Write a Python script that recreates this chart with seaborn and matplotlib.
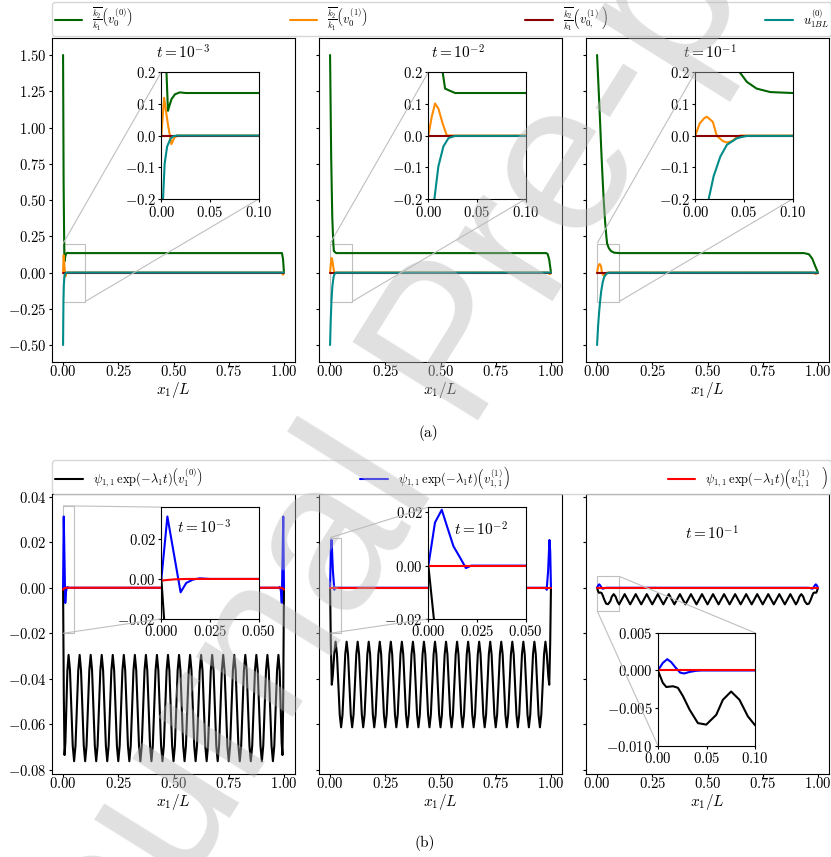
import numpy as np
import pandas as pd
import matplotlib
matplotlib.use("Agg")
import matplotlib.pyplot as plt
import seaborn as sns
from matplotlib.lines import Line2D
from mpl_toolkits.axes_grid1.inset_locator import mark_inset

# ---------------- values ----------------
# (a) t = 1e-3
a1_green_x = [0.0, 0.0025, 0.005, 0.0068, 0.0085, 0.0105, 0.014, 0.019, 0.025, 0.991, 0.996, 1.0]
a1_green_y = [1.5, 0.62, 0.22, 0.078, 0.096, 0.115, 0.13, 0.136, 0.134, 0.134, 0.09, 0.0]
a1_orange_x = [0.0, 0.0028, 0.0065, 0.0103, 0.0135, 0.017, 0.99, 0.996, 1.0]
a1_orange_y = [0.0, 0.119, 0.04, -0.027, -0.006, 0.0, 0.0, -0.015, 0.0]
a1_teal_x = [0.0, 0.0017, 0.0034, 0.0059, 0.0093, 0.012, 0.0155, 1.0]
a1_teal_y = [-0.5, -0.2, -0.088, -0.035, -0.01, -0.003, 0.0, 0.0]

# (a) t = 1e-2
a2_green_x = [0.0, 0.005, 0.01, 0.0147, 0.0172, 0.0207, 0.0276, 0.978, 0.985, 0.992, 1.0]
a2_green_y = [1.5, 0.8, 0.38, 0.2, 0.148, 0.143, 0.134, 0.134, 0.128, 0.09, 0.0]
a2_orange_x = [0.0, 0.0034, 0.0069, 0.0103, 0.0147, 0.019, 0.985, 0.995, 1.0]
a2_orange_y = [0.0, 0.058, 0.101, 0.085, 0.038, 0.0, 0.0, -0.012, 0.0]
a2_teal_x = [0.0, 0.003, 0.0062, 0.0103, 0.0155, 0.0207, 0.0276, 1.0]
a2_teal_y = [-0.5, -0.33, -0.2, -0.097, -0.034, -0.008, -0.001, 0.0]

# (a) t = 1e-1
a3_green_x = [0.0, 0.006, 0.012, 0.018, 0.024, 0.03, 0.036, 0.042, 0.0455, 0.053, 0.063,
              0.077, 0.1, 0.937, 0.959, 0.974, 0.989, 1.0]
a3_green_y = [1.5, 1.3, 1.1, 0.88, 0.68, 0.5, 0.36, 0.25, 0.2, 0.169, 0.148,
              0.137, 0.134, 0.134, 0.126, 0.096, 0.039, 0.0]
a3_orange_x = [0.0, 0.0044, 0.0095, 0.012, 0.018, 0.022, 0.028, 0.0325, 0.038, 0.043, 0.046,
               0.98, 0.99, 1.0]
a3_orange_y = [0.0, 0.038, 0.056, 0.059, 0.043, 0.0, -0.017, -0.022, -0.017, -0.004, 0.0,
               0.0, -0.01, 0.0]
a3_teal_x = [0.0, 0.005, 0.01, 0.0137, 0.0188, 0.0257, 0.0325, 0.043, 0.053, 1.0]
a3_teal_y = [-0.5, -0.36, -0.26, -0.2, -0.128, -0.066, -0.029, -0.008, -0.001, 0.0]

zero_x = [0.0, 1.0]
zero_y = [0.0, 0.0]

# (b) sample positions along the black oscillation (peak, shoulder, shoulder, trough, ...)
wave_x = [0.025, 0.03125, 0.04375, 0.05, 0.05625, 0.06875,
          0.075, 0.08125, 0.09375, 0.1, 0.10625, 0.11875,
          0.125, 0.13125, 0.14375, 0.15, 0.15625, 0.16875,
          0.175, 0.18125, 0.19375, 0.2, 0.20625, 0.21875,
          0.225, 0.23125, 0.24375, 0.25, 0.25625, 0.26875,
          0.275, 0.28125, 0.29375, 0.3, 0.30625, 0.31875,
          0.325, 0.33125, 0.34375, 0.35, 0.35625, 0.36875,
          0.375, 0.38125, 0.39375, 0.4, 0.40625, 0.41875,
          0.425, 0.43125, 0.44375, 0.45, 0.45625, 0.46875,
          0.475, 0.48125, 0.49375, 0.5, 0.50625, 0.51875,
          0.525, 0.53125, 0.54375, 0.55, 0.55625, 0.56875,
          0.575, 0.58125, 0.59375, 0.6, 0.60625, 0.61875,
          0.625, 0.63125, 0.64375, 0.65, 0.65625, 0.66875,
          0.675, 0.68125, 0.69375, 0.7, 0.70625, 0.71875,
          0.725, 0.73125, 0.74375, 0.75, 0.75625, 0.76875,
          0.775, 0.78125, 0.79375, 0.8, 0.80625, 0.81875,
          0.825, 0.83125, 0.84375, 0.85, 0.85625, 0.86875,
          0.875, 0.88125, 0.89375, 0.9, 0.90625, 0.91875,
          0.925, 0.93125, 0.94375, 0.95, 0.95625, 0.96875,
          0.975]

# (b) t = 1e-3
b1_wave_y = [-0.0295, -0.0363, -0.0694, -0.0762, -0.0694, -0.0363,
             -0.0295, -0.0363, -0.0694, -0.0762, -0.0694, -0.0363,
             -0.0295, -0.0363, -0.0694, -0.0762, -0.0694, -0.0363,
             -0.0295, -0.0363, -0.0694, -0.0762, -0.0694, -0.0363,
             -0.0295, -0.0363, -0.0694, -0.0762, -0.0694, -0.0363,
             -0.0295, -0.0363, -0.0694, -0.0762, -0.0694, -0.0363,
             -0.0295, -0.0363, -0.0694, -0.0762, -0.0694, -0.0363,
             -0.0295, -0.0363, -0.0694, -0.0762, -0.0694, -0.0363,
             -0.0295, -0.0363, -0.0694, -0.0762, -0.0694, -0.0363,
             -0.0295, -0.0363, -0.0694, -0.0762, -0.0694, -0.0363,
             -0.0295, -0.0363, -0.0694, -0.0762, -0.0694, -0.0363,
             -0.0295, -0.0363, -0.0694, -0.0762, -0.0694, -0.0363,
             -0.0295, -0.0363, -0.0694, -0.0762, -0.0694, -0.0363,
             -0.0295, -0.0363, -0.0694, -0.0762, -0.0694, -0.0363,
             -0.0295, -0.0363, -0.0694, -0.0762, -0.0694, -0.0363,
             -0.0295, -0.0363, -0.0694, -0.0762, -0.0694, -0.0363,
             -0.0295, -0.0363, -0.0694, -0.0762, -0.0694, -0.0363,
             -0.0295, -0.0363, -0.0694, -0.0762, -0.0694, -0.0363,
             -0.0295, -0.0363, -0.0694, -0.0762, -0.0694, -0.0363,
             -0.0295]
b1_black_x = [0.0, 0.0033, 0.0067, 0.0105, 0.0195] + wave_x + [0.9805, 0.9895, 0.9933, 0.9967, 1.0]
b1_black_y = [0.0, -0.047, -0.0735, -0.068, -0.0365] + b1_wave_y + [-0.0365, -0.068, -0.0735, -0.047, 0.0]
b1_blue_x = [0.0, 0.0031, 0.0099, 0.0128, 0.0163, 0.0197, 0.025,
             0.975, 0.9803, 0.9837, 0.9872, 0.9901, 0.9969, 1.0]
b1_blue_y = [0.0, 0.0313, -0.0067, -0.002, -0.0003, 0.0003, 0.0,
             0.0, 0.0003, -0.0003, -0.002, -0.0067, 0.0313, 0.0]
b1_red_x = [0.0, 0.0067, 0.0133, 0.9867, 0.9933, 1.0]
b1_red_y = [-0.0008, -0.0002, 0.0, 0.0, -0.0002, -0.0008]

# (b) t = 1e-2
b2_wave_y = [-0.0237, -0.0292, -0.0558, -0.0613, -0.0558, -0.0292,
             -0.0237, -0.0292, -0.0558, -0.0613, -0.0558, -0.0292,
             -0.0237, -0.0292, -0.0558, -0.0613, -0.0558, -0.0292,
             -0.0237, -0.0292, -0.0558, -0.0613, -0.0558, -0.0292,
             -0.0237, -0.0292, -0.0558, -0.0613, -0.0558, -0.0292,
             -0.0237, -0.0292, -0.0558, -0.0613, -0.0558, -0.0292,
             -0.0237, -0.0292, -0.0558, -0.0613, -0.0558, -0.0292,
             -0.0237, -0.0292, -0.0558, -0.0613, -0.0558, -0.0292,
             -0.0237, -0.0292, -0.0558, -0.0613, -0.0558, -0.0292,
             -0.0237, -0.0292, -0.0558, -0.0613, -0.0558, -0.0292,
             -0.0237, -0.0292, -0.0558, -0.0613, -0.0558, -0.0292,
             -0.0237, -0.0292, -0.0558, -0.0613, -0.0558, -0.0292,
             -0.0237, -0.0292, -0.0558, -0.0613, -0.0558, -0.0292,
             -0.0237, -0.0292, -0.0558, -0.0613, -0.0558, -0.0292,
             -0.0237, -0.0292, -0.0558, -0.0613, -0.0558, -0.0292,
             -0.0237, -0.0292, -0.0558, -0.0613, -0.0558, -0.0292,
             -0.0237, -0.0292, -0.0558, -0.0613, -0.0558, -0.0292,
             -0.0237, -0.0292, -0.0558, -0.0613, -0.0558, -0.0292,
             -0.0237, -0.0292, -0.0558, -0.0613, -0.0558, -0.0292,
             -0.0237]
b2_black_x = [0.0, 0.0034, 0.0077, 0.012, 0.019] + wave_x + [0.981, 0.988, 0.9923, 0.9966, 1.0]
b2_black_y = [0.0, -0.024, -0.0426, -0.039, -0.029] + b2_wave_y + [-0.029, -0.039, -0.0426, -0.024, 0.0]
b2_blue_x = [0.0, 0.0034, 0.0069, 0.0095, 0.0129, 0.0164, 0.0193, 0.022,
             0.978, 0.9807, 0.9836, 0.9871, 0.9905, 0.9931, 0.9966, 1.0]
b2_blue_y = [0.0, 0.0162, 0.021, 0.015, 0.0073, 0.0029, -0.0009, 0.0,
             0.0, -0.0009, 0.0029, 0.0073, 0.015, 0.021, 0.0162, 0.0]

# (b) t = 1e-1
osc_x = [0.1, 0.125, 0.15, 0.175, 0.2, 0.225, 0.25, 0.275, 0.3, 0.325, 0.35,
         0.375, 0.4, 0.425, 0.45, 0.475, 0.5, 0.525, 0.55, 0.575, 0.6, 0.625,
         0.65, 0.675, 0.7, 0.725, 0.75, 0.775, 0.8, 0.825, 0.85, 0.875, 0.9]
b3_left_x = [0.0, 0.005, 0.0086, 0.0154, 0.0205, 0.0257, 0.0325, 0.0411, 0.0497, 0.06,
             0.0668, 0.0753, 0.0839, 0.0925]
b3_left_y = [0.0, -0.00165, -0.0022, -0.0021, -0.0023, -0.0034, -0.0052, -0.007, -0.0072, -0.0059,
             -0.0039, -0.0028, -0.0039, -0.0061]
b3_mid_y = [-0.0073, -0.0028, -0.0073, -0.0028, -0.0073, -0.0028, -0.0073, -0.0028, -0.0073, -0.0028,
            -0.0073, -0.0028, -0.0073, -0.0028, -0.0073, -0.0028, -0.0073, -0.0028, -0.0073, -0.0028,
            -0.0073, -0.0028, -0.0073, -0.0028, -0.0073, -0.0028, -0.0073, -0.0028, -0.0073, -0.0028,
            -0.0073, -0.0028, -0.0073]
b3_right_x = [0.9075, 0.9161, 0.9247, 0.9332, 0.94, 0.9503, 0.9589, 0.9675, 0.9743, 0.9795,
              0.9846, 0.9914, 0.995, 1.0]
b3_right_y = [-0.0061, -0.0039, -0.0028, -0.0039, -0.0059, -0.0072, -0.007, -0.0052, -0.0034, -0.0023,
              -0.0021, -0.0022, -0.00165, 0.0]
b3_black_x = b3_left_x + osc_x + b3_right_x
b3_black_y = b3_left_y + b3_mid_y + b3_right_y
b3_blue_x = [0.0, 0.005, 0.0096, 0.0137, 0.018, 0.023, 0.027, 0.0325, 0.039, 0.045,
             0.955, 0.961, 0.9675, 0.973, 0.977, 0.982, 0.9863, 0.9904, 0.995, 1.0]
b3_blue_y = [0.0, 0.001, 0.0015, 0.0011, 0.0004, -0.0003, -0.0004, -0.0002, -0.00005, 0.0,
             0.0, -0.00005, -0.0002, -0.0004, -0.0003, 0.0004, 0.0011, 0.0015, 0.001, 0.0]

top_labels = [r"$\frac{\overline{k_2}}{k_1}\left(v_0^{(0)}\right)$",
              r"$\frac{\overline{k_2}}{k_1}\left(v_0^{(1)}\right)$",
              r"$\frac{\overline{k_2}}{k_1}\left(v_{0,}^{(1)}\ \right)$",
              r"$u_{1BL}^{(0)}$"]
bottom_labels = [r"$\psi_{1,1}\,\exp(-\lambda_1 t)\left(v_1^{(0)}\right)$",
                 r"$\psi_{1,1}\,\exp(-\lambda_1 t)\left(v_{1,1}^{(1)}\right)$",
                 r"$\psi_{1,1}\,\exp(-\lambda_1 t)\left(v_{1,1}^{(1)}\quad\right)$"]
time_labels = [r"$t=10^{-3}$", r"$t=10^{-2}$", r"$t=10^{-1}$"]

top_colors = ["#006400", "#ff8c00", "#8b0000", "#008b8b"]
bottom_colors = ["black", "blue", "red"]

# ---------------- style ----------------
sns.set_style("ticks", {"axes.edgecolor": "black", "xtick.color": "black",
                        "ytick.color": "black", "text.color": "black",
                        "axes.labelcolor": "black"})
plt.rcParams["font.family"] = ["cmr10", "DejaVu Serif"]
plt.rcParams["mathtext.fontset"] = "cm"
plt.rcParams["axes.formatter.use_mathtext"] = True
plt.rcParams["xtick.labelsize"] = 10.5
plt.rcParams["ytick.labelsize"] = 10.5
plt.rcParams["xtick.major.size"] = 2.5
plt.rcParams["ytick.major.size"] = 2.5
plt.rcParams["xtick.major.pad"] = -1.0
plt.rcParams["ytick.major.pad"] = 1.5
plt.rcParams["axes.labelpad"] = 1.0


def draw(ax, x, y, color):
    sns.lineplot(x=x, y=y, ax=ax, color=color, linewidth=1.5,
                 sort=False, estimator=None, legend=False)


fig = plt.figure(figsize=(8.31, 8.57), dpi=100)
lefts = [0.0626, 0.3839, 0.7052]
width = 0.2924

# ---------------- row (a) ----------------
top_data = [
    [(a1_green_x, a1_green_y), (a1_orange_x, a1_orange_y), (zero_x, zero_y), (a1_teal_x, a1_teal_y)],
    [(a2_green_x, a2_green_y), (a2_orange_x, a2_orange_y), (zero_x, zero_y), (a2_teal_x, a2_teal_y)],
    [(a3_green_x, a3_green_y), (a3_orange_x, a3_orange_y), (zero_x, zero_y), (a3_teal_x, a3_teal_y)],
]
title_pos = [0.54, 0.57, 0.51]
top_axes = []
for i in range(3):
    ax = fig.add_axes([lefts[i], 0.5776, width, 0.378],
                      sharey=top_axes[0] if top_axes else None)
    top_axes.append(ax)
    ins = ax.inset_axes([0.45, 0.503, 0.40, 0.392])
    for (x, y), c in zip(top_data[i], top_colors):
        draw(ax, x, y, c)
        draw(ins, x, y, c)
    ax.set_xlim(-0.05, 1.05)
    ax.set_ylim(-0.617, 1.617)
    ax.set_xticks([0, 0.25, 0.5, 0.75, 1.0])
    ax.set_yticks([-0.5, -0.25, 0, 0.25, 0.5, 0.75, 1.0, 1.25, 1.5])
    ax.set_xlabel(r"$x_1/L$", fontsize=11)
    if i > 0:
        ax.tick_params(labelleft=False)
    ax.text(title_pos[i], 0.955, time_labels[i], transform=ax.transAxes,
            ha="center", va="center", fontsize=11)
    ins.set_xlim(0, 0.1)
    ins.set_ylim(-0.2, 0.2)
    ins.set_xticks([0, 0.05, 0.1])
    ins.set_yticks([-0.2, -0.1, 0, 0.1, 0.2])
    ins.tick_params(axis="x", pad=1.5)
    mark_inset(ax, ins, loc1=2, loc2=4, fc="none", ec="0.75", lw=0.8)

# ---------------- row (b) ----------------
bottom_data = [
    [(b1_black_x, b1_black_y), (b1_blue_x, b1_blue_y), (b1_red_x, b1_red_y)],
    [(b2_black_x, b2_black_y), (b2_blue_x, b2_blue_y), (zero_x, zero_y)],
    [(b3_black_x, b3_black_y), (b3_blue_x, b3_blue_y), (zero_x, zero_y)],
]
inset_rects = [[0.45, 0.554, 0.40, 0.399], [0.45, 0.554, 0.40, 0.399], [0.296, 0.101, 0.40, 0.403]]
inset_xlims = [(0, 0.05), (0, 0.05), (0, 0.1)]
inset_ylims = [(-0.02, 0.036), (-0.02, 0.022), (-0.010, 0.005)]
inset_xticks = [[0, 0.025, 0.05], [0, 0.025, 0.05], [0, 0.05, 0.1]]
inset_yticks = [[-0.02, 0.0, 0.02], [-0.02, 0.0, 0.02], [-0.01, -0.005, 0.0, 0.005]]
inset_locs = [(2, 3), (2, 3), (1, 3)]
bottom_axes = []
for i in range(3):
    ax = fig.add_axes([lefts[i], 0.0969, width, 0.3267],
                      sharey=bottom_axes[0] if bottom_axes else None)
    bottom_axes.append(ax)
    ins = ax.inset_axes(inset_rects[i])
    for (x, y), c in zip(bottom_data[i], bottom_colors):
        draw(ax, x, y, c)
        draw(ins, x, y, c)
    ax.set_xlim(-0.05, 1.05)
    ax.set_ylim(-0.0818, 0.0412)
    ax.set_xticks([0, 0.25, 0.5, 0.75, 1.0])
    ax.set_yticks([-0.08, -0.06, -0.04, -0.02, 0.0, 0.02, 0.04])
    ax.set_xlabel(r"$x_1/L$", fontsize=11)
    if i > 0:
        ax.tick_params(labelleft=False)
    ins.set_xlim(*inset_xlims[i])
    ins.set_ylim(*inset_ylims[i])
    ins.set_xticks(inset_xticks[i])
    ins.set_yticks(inset_yticks[i])
    ins.tick_params(axis="x", pad=1.5)
    mark_inset(ax, ins, loc1=inset_locs[i][0], loc2=inset_locs[i][1],
               fc="none", ec="0.75", lw=0.8)
    if i == 0:
        ins.text(0.44, 0.82, time_labels[0], transform=ins.transAxes,
                 ha="center", va="center", fontsize=11)
    elif i == 1:
        ins.text(0.54, 0.795, time_labels[1], transform=ins.transAxes,
                 ha="center", va="center", fontsize=11)
    else:
        ax.text(0.516, 0.86, time_labels[2], transform=ax.transAxes,
                ha="center", va="center", fontsize=11)

# ---------------- legends and captions ----------------
top_handles = [Line2D([0], [0], color=c, lw=1.5) for c in top_colors]
fig.legend(top_handles, top_labels, loc="center",
           bbox_to_anchor=(0.0626, 0.9615, 0.9374, 0.0325), mode="expand",
           ncol=4, borderaxespad=0, fontsize=9, handlelength=2.2,
           borderpad=0.2)
bottom_handles = [Line2D([0], [0], color=c, lw=1.5) for c in bottom_colors]
fig.legend(bottom_handles, bottom_labels, loc="center",
           bbox_to_anchor=(0.0626, 0.4259, 0.9374, 0.035), mode="expand",
           ncol=3, borderaxespad=0, fontsize=9, handlelength=2.2,
           borderpad=0.25)

fig.text(0.515, 0.4947, "(a)", ha="center", va="center", fontsize=11)
fig.text(0.511, 0.0163, "(b)", ha="center", va="center", fontsize=11)

# watermark
fig.text(0.55, 0.5916, "Journal Pre-proof", rotation=58, rotation_mode="anchor",
         ha="center", va="center", fontsize=155, family="Liberation Sans",
         color="#b8b8b8", alpha=0.43, zorder=10)

fig.savefig("out.png", dpi=100)
